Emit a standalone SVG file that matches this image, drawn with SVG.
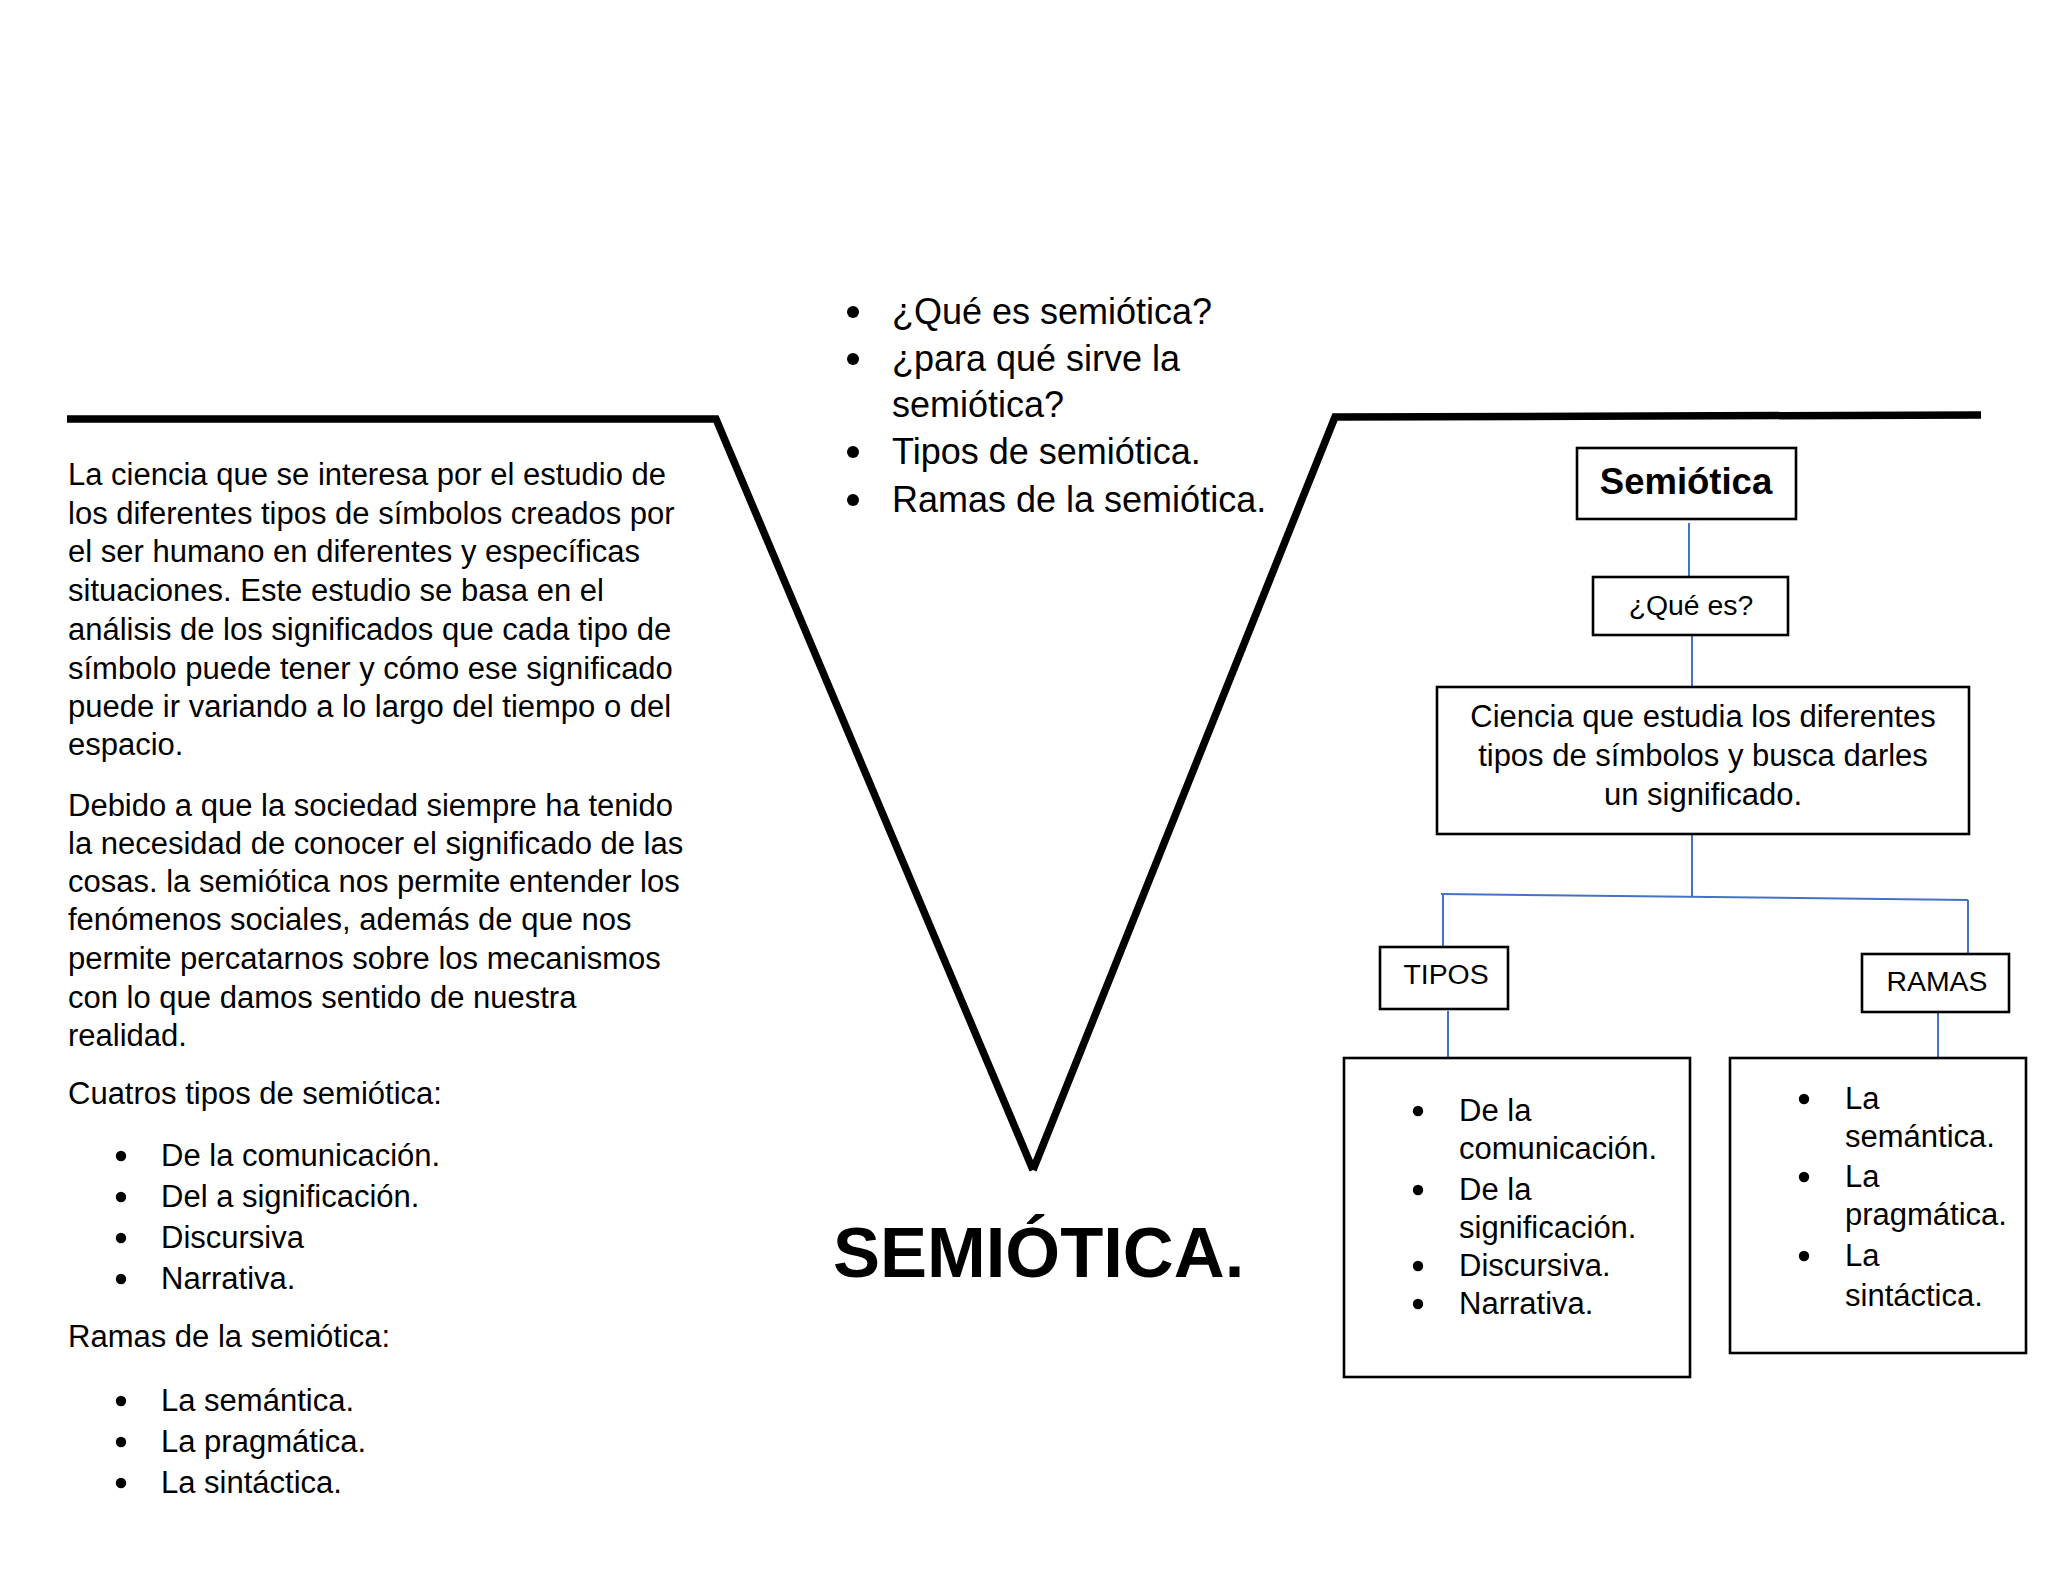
<svg xmlns="http://www.w3.org/2000/svg" width="2048" height="1582" viewBox="0 0 2048 1582">
<style>
text{font-family:"Liberation Sans",Arial,sans-serif;fill:#000}
.body{font-size:31px}
.small{font-size:28.4px}
.top{font-size:36px}
.box{fill:#fff;stroke:#000;stroke-width:2.6}
.conn{stroke:#4472C4;stroke-width:2;fill:none}
.v{stroke:#000;stroke-width:7.5;fill:none;stroke-linejoin:miter;stroke-linecap:butt}
.mid{text-anchor:middle}
</style>
<defs>
<circle id="dot" r="5.2" fill="#000"/>
<circle id="dotb" r="6" fill="#000"/>
</defs>
<rect width="2048" height="1582" fill="#fff"/>

<g id="v-shape">
<polyline class="v" points="67,419 716,419 1033,1170"/>
<polyline class="v" points="1033,1170 1335,417 1981,415"/>
</g>

<g id="top-list" class="top">
<use href="#dotb" x="853" y="312"/>
<text x="892" y="324">¿Qué es semiótica?</text>
<use href="#dotb" x="853" y="359"/>
<text x="892" y="371">¿para qué sirve la</text>
<text x="892" y="417">semiótica?</text>
<use href="#dotb" x="853" y="452"/>
<text x="892" y="464">Tipos de semiótica.</text>
<use href="#dotb" x="853" y="500"/>
<text x="892" y="512">Ramas de la semiótica.</text>
</g>

<g id="left-text" class="body">
<text x="68" y="485">La ciencia que se interesa por el estudio de</text>
<text x="68" y="524">los diferentes tipos de símbolos creados por</text>
<text x="68" y="562">el ser humano en diferentes y específicas</text>
<text x="68" y="601">situaciones. Este estudio se basa en el</text>
<text x="68" y="640">análisis de los significados que cada tipo de</text>
<text x="68" y="679">símbolo puede tener y cómo ese significado</text>
<text x="68" y="717">puede ir variando a lo largo del tiempo o del</text>
<text x="68" y="755">espacio.</text>
<text x="68" y="816">Debido a que la sociedad siempre ha tenido</text>
<text x="68" y="854">la necesidad de conocer el significado de las</text>
<text x="68" y="892">cosas. la semiótica nos permite entender los</text>
<text x="68" y="930">fenómenos sociales, además de que nos</text>
<text x="68" y="969">permite percatarnos sobre los mecanismos</text>
<text x="68" y="1008">con lo que damos sentido de nuestra</text>
<text x="68" y="1046">realidad.</text>
<text x="68" y="1104">Cuatros tipos de semiótica:</text>
<use href="#dot" x="121" y="1156"/>
<text x="161" y="1166">De la comunicación.</text>
<use href="#dot" x="121" y="1197"/>
<text x="161" y="1207">Del a significación.</text>
<use href="#dot" x="121" y="1238"/>
<text x="161" y="1248">Discursiva</text>
<use href="#dot" x="121" y="1279"/>
<text x="161" y="1289">Narrativa.</text>
<text x="68" y="1347">Ramas de la semiótica:</text>
<use href="#dot" x="121" y="1401"/>
<text x="161" y="1411">La semántica.</text>
<use href="#dot" x="121" y="1442"/>
<text x="161" y="1452">La pragmática.</text>
<use href="#dot" x="121" y="1483"/>
<text x="161" y="1493">La sintáctica.</text>
</g>

<g id="title">
<text x="833" y="1277" style="font-size:70.5px;font-weight:bold">SEMIÓTICA.</text>
</g>

<g id="connectors">
<line class="conn" x1="1689" y1="523" x2="1689" y2="576"/>
<line class="conn" x1="1692" y1="636" x2="1692" y2="686"/>
<line class="conn" x1="1692" y1="835" x2="1692" y2="896"/>
<line class="conn" x1="1441" y1="894" x2="1968" y2="900"/>
<line class="conn" x1="1443" y1="894" x2="1443" y2="947"/>
<line class="conn" x1="1968" y1="900" x2="1968" y2="954"/>
<line class="conn" x1="1448" y1="1011" x2="1448" y2="1058"/>
<line class="conn" x1="1938" y1="1013" x2="1938" y2="1065"/>
</g>

<g id="node-semiotica">
<rect class="box" x="1577" y="448" width="219" height="71"/>
<text class="mid" x="1686" y="494" style="font-size:36.5px;font-weight:bold">Semiótica</text>
</g>

<g id="node-que-es">
<rect class="box" x="1593" y="577" width="195" height="58"/>
<text class="mid small" x="1691" y="615">¿Qué es?</text>
</g>

<g id="node-definicion">
<rect class="box" x="1437" y="687" width="532" height="147"/>
<text class="mid body" x="1703" y="727">Ciencia que estudia los diferentes</text>
<text class="mid body" x="1703" y="766">tipos de símbolos y busca darles</text>
<text class="mid body" x="1703" y="805">un significado.</text>
</g>

<g id="node-tipos">
<rect class="box" x="1380" y="947" width="128" height="62"/>
<text class="mid small" x="1446" y="984">TIPOS</text>
</g>

<g id="node-ramas">
<rect class="box" x="1862" y="954" width="147" height="58"/>
<text class="mid small" x="1937" y="991">RAMAS</text>
</g>

<g id="node-tipos-list" class="body">
<rect class="box" x="1344" y="1058" width="346" height="319"/>
<use href="#dot" x="1418" y="1111"/>
<text x="1459" y="1121">De la</text>
<text x="1459" y="1159">comunicación.</text>
<use href="#dot" x="1418" y="1190"/>
<text x="1459" y="1200">De la</text>
<text x="1459" y="1238">significación.</text>
<use href="#dot" x="1418" y="1266"/>
<text x="1459" y="1276">Discursiva.</text>
<use href="#dot" x="1418" y="1304"/>
<text x="1459" y="1314">Narrativa.</text>
</g>

<g id="node-ramas-list" class="body">
<rect class="box" x="1730" y="1058" width="296" height="295"/>
<use href="#dot" x="1804" y="1099"/>
<text x="1845" y="1109">La</text>
<text x="1845" y="1147">semántica.</text>
<use href="#dot" x="1804" y="1177"/>
<text x="1845" y="1187">La</text>
<text x="1845" y="1225">pragmática.</text>
<use href="#dot" x="1804" y="1256"/>
<text x="1845" y="1266">La</text>
<text x="1845" y="1306">sintáctica.</text>
</g>
</svg>
